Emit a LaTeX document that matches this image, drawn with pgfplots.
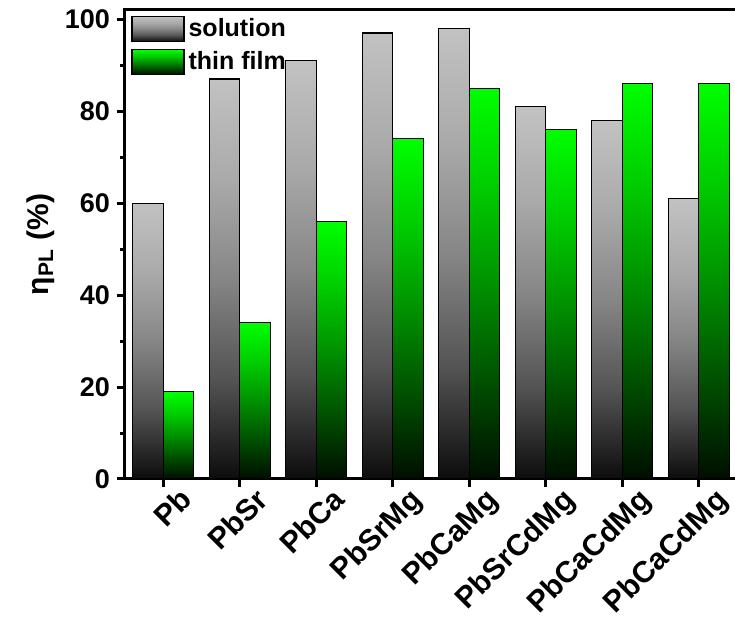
\documentclass[border=0pt]{standalone}
\usepackage{fontspec}
\setmainfont{Liberation Sans}
\usepackage{pgfplots}
\pgfplotsset{compat=1.18}

% colour stops of the bar gradients (bottom to top)
\definecolor{solA}{RGB}{12,12,12}
\definecolor{solB}{RGB}{84,84,84}
\definecolor{solC}{RGB}{134,134,134}
\definecolor{solD}{RGB}{170,170,170}
\definecolor{solE}{RGB}{194,194,194}
\definecolor{filmA}{RGB}{0,14,0}
\definecolor{filmB}{RGB}{0,80,0}
\definecolor{filmC}{RGB}{0,145,0}
\definecolor{filmD}{RGB}{0,205,0}
\definecolor{filmE}{RGB}{0,255,0}

% the path is fitted into the 25bp..75bp band of the shading
\pgfdeclareverticalshading{solshade}{100bp}{%
  color(0bp)=(solA); color(25bp)=(solA); color(37.5bp)=(solB);
  color(50bp)=(solC); color(62.5bp)=(solD); color(75bp)=(solE);
  color(100bp)=(solE)}
\pgfdeclareverticalshading{filmshade}{100bp}{%
  color(0bp)=(filmA); color(25bp)=(filmA); color(37.5bp)=(filmB);
  color(50bp)=(filmC); color(62.5bp)=(filmD); color(75bp)=(filmE);
  color(100bp)=(filmE)}

\pgfplotsset{
  boxlegend/.style={
    legend image code/.code={
      \draw[##1, line width=0.6pt] (0pt,-6.25pt) rectangle (26pt,6.25pt);
    }
  },
  solstyle/.style={draw=black, line width=0.6pt, shade, shading=solshade},
  filmstyle/.style={draw=black, line width=0.6pt, shade, shading=filmshade},
}

% one plot per bar, so that every bar gets its own vertical shading
\newcommand{\solbar}[2]{%
  \addplot[forget plot, ybar, bar shift=-0.2, bar width=0.4, solstyle]
    coordinates {(#1,#2)};}
\newcommand{\filmbar}[2]{%
  \addplot[forget plot, ybar, bar shift=0.2, bar width=0.4, filmstyle]
    coordinates {(#1,#2)};}

\begin{document}
\begin{tikzpicture}
\begin{axis}[
  scale only axis,
  width=306pt, height=234.5pt,
  xmin=-0.5, xmax=7.5,
  ymin=0, ymax=102,
  xtick={0,...,7},
  xticklabels={Pb,PbSr,PbCa,PbSrMg,PbCaMg,PbSrCdMg,PbCaCdMg,PbCaCdMg},
  x tick label style={font=\fontsize{15}{15}\selectfont\bfseries,
    xshift=7.5pt, yshift=2pt, rotate=45, anchor=north east, inner sep=1pt},
  ytick={0,20,...,100},
  minor y tick num=1,
  y tick label style={font=\fontsize{13.5}{14}\selectfont\bfseries},
  /pgf/number format/assume math mode=true,
  tick align=outside,
  tick pos=left,
  major tick length=4pt,
  minor tick length=2.5pt,
  every tick/.style={black, line width=1.5pt},
  axis line style={line width=1.5pt},
  ylabel={η\textsubscript{PL} (\%)},
  ylabel style={font=\fontsize{15}{15}\selectfont\bfseries,
    at={(axis description cs:-0.114,0.5)}, anchor=south, inner sep=0pt},
  legend style={draw=none, fill=none,
    at={(axis description cs:0,1)}, anchor=north west,
    font=\fontsize{12.5}{13}\selectfont\bfseries,
    inner xsep=3pt, inner ysep=2pt, row sep=2pt},
  legend cell align=left,
]
% solution
\solbar{0}{60}
\solbar{1}{87}
\solbar{2}{91}
\solbar{3}{97}
\solbar{4}{98}
\solbar{5}{81}
\solbar{6}{78}
\solbar{7}{61}
% thin film
\filmbar{0}{19}
\filmbar{1}{34}
\filmbar{2}{56}
\filmbar{3}{74}
\filmbar{4}{85}
\filmbar{5}{76}
\filmbar{6}{86}
\filmbar{7}{86}

\addlegendimage{boxlegend, solstyle}
\addlegendentry{solution}
\addlegendimage{boxlegend, filmstyle}
\addlegendentry{thin film}
\end{axis}
\pgfresetboundingbox
\path (-62.5pt,-71pt) rectangle (305pt,239.5pt);
\end{tikzpicture}
\end{document}
